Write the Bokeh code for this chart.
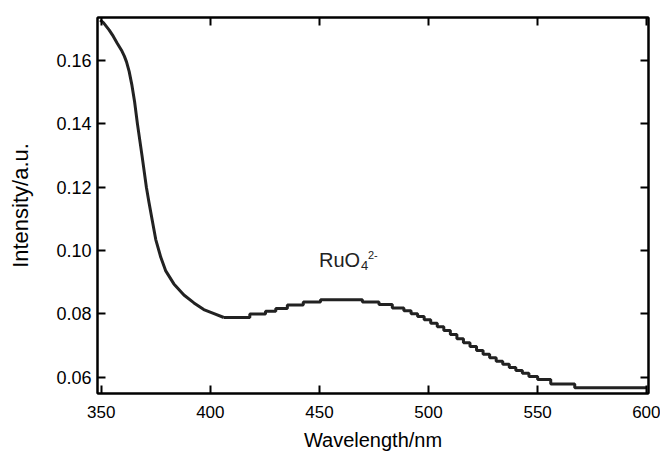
from bokeh.plotting import figure
from bokeh.models import LinearAxis, FixedTicker, NumeralTickFormatter, Range1d
from bokeh.core.properties import value
from bokeh.embed import file_html
from bokeh.resources import INLINE

# smooth, steep part of the spectrum (wavelength nm, intensity a.u.)
wl_smooth = [349.5, 351.0, 353.6, 355.5, 357.4, 359.5, 360.6, 361.6, 362.8, 364.0,
             365.3, 366.6, 368.7, 370.7, 371.9, 373.4, 375.0, 377.3, 379.5, 383.3,
             387.9, 392.5, 397.0, 401.7, 406.2]
int_smooth = [0.1728, 0.1720, 0.1697, 0.1677, 0.1654, 0.1630, 0.1614, 0.1596, 0.1566, 0.1525,
              0.1470, 0.1400, 0.1300, 0.1200, 0.1152, 0.1095, 0.1035, 0.0979, 0.0937, 0.0895,
              0.0860, 0.0835, 0.0814, 0.0801, 0.0789]

# quantized (staircase) part: level start wavelength and level value
wl_step = [406.2, 418.1, 425.3, 430.0, 435.3, 442.6, 450.5, 469.7, 477.3, 483.4,
           488.7, 492.0, 495.0, 498.0, 501.0, 504.0, 507.0, 510.0, 513.0, 516.0,
           519.0, 522.0, 525.0, 528.0, 531.0, 534.0, 537.0, 540.0, 543.0, 546.0,
           550.0, 556.0, 567.0, 600.0]
int_step = [0.0789, 0.0800, 0.0809, 0.0817, 0.0828, 0.0838, 0.0845, 0.0838, 0.0830, 0.0819,
            0.0810, 0.0801, 0.0792, 0.0782, 0.0771, 0.0760, 0.0748, 0.0735, 0.0722, 0.0709,
            0.0697, 0.0685, 0.0673, 0.0662, 0.0651, 0.0641, 0.0631, 0.0622, 0.0613, 0.0603,
            0.0593, 0.0579, 0.0567, 0.0567]

x_ticks = [350, 400, 450, 500, 550, 600]
y_ticks = [0.06, 0.08, 0.10, 0.12, 0.14, 0.16]
x_title = "Wavelength/nm"
y_title = "Intensity/a.u."
label_main, label_sub, label_sup = "RuO", "4", "2-"
label_x, label_y = 449.8, 0.0969

FONT = "Liberation Sans"
INK = "#222222"

p = figure(frame_width=551, frame_height=376,
           min_border_left=97, min_border_right=12, min_border_top=17, min_border_bottom=59,
           x_range=Range1d(348.3, 600.8), y_range=Range1d(0.0549, 0.1736),
           output_backend="svg", toolbar_location=None,
           x_axis_label=x_title, y_axis_label=y_title)

p.line(wl_smooth, int_smooth, line_color=INK, line_width=3, line_join="round")
p.step(wl_step, int_step, mode="after", line_color=INK, line_width=3)

p.text(x=[label_x], y=[label_y], text=[label_main], text_font=value(FONT),
       text_font_size="20px", text_color=INK, text_baseline="alphabetic", text_align="left")
p.text(x=[label_x], y=[label_y], text=[label_sub], text_font=value(FONT),
       text_font_size="13px", text_color=INK, text_baseline="alphabetic", text_align="left",
       x_offset=42, y_offset=5)
p.text(x=[label_x], y=[label_y], text=[label_sup], text_font=value(FONT),
       text_font_size="11px", text_color=INK, text_baseline="alphabetic", text_align="left",
       x_offset=49, y_offset=-5)

p.xgrid.visible = False
p.ygrid.visible = False
p.outline_line_color = "black"
p.outline_line_width = 2
p.background_fill_color = "white"
p.border_fill_color = "white"

def style(ax, ticks, labels=True, tick_size="17px", title_size="20px"):
    ax.ticker = FixedTicker(ticks=ticks)
    ax.major_tick_in = 8
    ax.major_tick_out = 0
    ax.minor_tick_line_color = None
    ax.major_tick_line_color = "black"
    ax.major_tick_line_width = 2
    ax.axis_line_color = "black"
    ax.axis_line_width = 2
    if labels:
        ax.major_label_text_font = FONT
        ax.major_label_text_font_size = tick_size
        ax.major_label_text_color = "black"
        ax.axis_label_text_font = FONT
        ax.axis_label_text_font_size = title_size
        ax.axis_label_text_font_style = "normal"
        ax.axis_label_text_color = "black"
    else:
        ax.major_label_text_font_size = "1px"
        ax.major_label_text_color = None
        ax.major_label_standoff = 0
        ax.axis_label = None

xa = p.xaxis[0]
ya = p.yaxis[0]
style(xa, x_ticks, tick_size="17px", title_size="20px")
style(ya, y_ticks, tick_size="18px", title_size="22px")
ya.formatter = NumeralTickFormatter(format="0.00")
xa.major_label_standoff = 12
xa.axis_label_standoff = 8
ya.major_label_standoff = 6
ya.axis_label_standoff = 20

top = LinearAxis()
style(top, x_ticks, labels=False)
p.add_layout(top, "above")
right = LinearAxis()
style(right, y_ticks, labels=False)
p.add_layout(right, "right")

open("out.html", "w").write(file_html(p, INLINE))
